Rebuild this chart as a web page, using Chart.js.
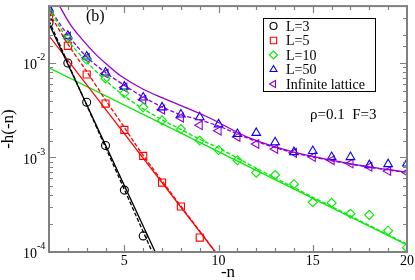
<!DOCTYPE html>
<html>
<head>
<meta charset="utf-8">
<script src="https://cdn.jsdelivr.net/npm/chart.js"></script>
<style>
  html, body { margin: 0; padding: 0; background: #fff; }
  #chart { display: block; }
</style>
</head>
<body>
<canvas id="chart" width="415" height="280"></canvas>
<script>
// data: -h(-n) against -n
const nValues = [1, 2, 3, 4, 5, 6, 7, 8, 9, 10, 11, 12, 13, 14, 15, 16, 17, 18, 19, 20];
const l3Values = [0.0267, 0.0100, 0.00384, 0.00134, 0.000452, 0.000148];
const l5Values = [0.031, 0.0152, 0.00755, 0.00372, 0.00196, 0.00104, 0.000543, 0.000303, 0.000142];
const l10Values = [0.0342, 0.0182, 0.0108, 0.00687, 0.0048, 0.0034, 0.00247, 0.00200, 0.00151, 0.0012,
  0.000935, 0.00069, 0.000653, 0.000522, 0.000336, 0.000331, 0.000254, 0.000247, 0.000168, 0.000111];
const l50Values = [0.0376, 0.0194, 0.0117, 0.00793, 0.00562, 0.00431, 0.00339, 0.00285, 0.00267, 0.00224,
  0.00177, 0.00182, 0.00145, 0.00114, 0.00117, 0.00101, 0.00101, 0.00083, 0.00085, 0.000863];
const infValues = [0.0358, 0.0191, 0.01135, 0.00774, 0.0055, 0.00408, 0.00321, 0.00264, 0.00219, 0.00192,
  0.00165, 0.00139, 0.00123, 0.00112, 0.00101, 0.000935, 0.000863, 0.000797, 0.000719, 0.000695];

// fitted curves (solid and dashed)
const l3SolidX = [1, 6.64];
const l3SolidY = [0.026, 0.0001];
const l3DashedX = [1, 6.48];
const l3DashedY = [0.028, 0.0001];
const l5SolidX = [1, 9.83];
const l5SolidY = [0.0194, 0.0001];
const l5DashedX = [1, 2, 3, 4, 5, 6, 9.83];
const l5DashedY = [0.034, 0.0159, 0.00813, 0.00406, 0.00208, 0.00105, 0.0001];
const l10SolidX = [1, 20];
const l10SolidY = [0.0089, 0.000119];
const l10DashedX = [1, 2, 3, 4, 5, 6, 7, 8, 9, 10, 12, 14, 20];
const l10DashedY = [0.0385, 0.0175, 0.0103, 0.00655, 0.00447, 0.00327, 0.00251, 0.00198, 0.00156, 0.00126, 0.00077, 0.00048, 0.000121];
const infSolidX = [1.546, 2.129, 2.659, 3.454, 4.09, 4.778, 6.0, 7.06, 9.39, 11.67, 14.0, 16.97, 20];
const infSolidY = [0.0404, 0.02565, 0.01875, 0.0125, 0.0096, 0.00738, 0.00527, 0.00425, 0.0027, 0.0016, 0.00114, 0.000863, 0.000695];
const infDashedX = [1, 2, 3, 4, 5, 6, 7, 8, 9, 10, 12, 14, 17, 20];
const infDashedY = [0.0385, 0.0197, 0.0116, 0.00793, 0.0058, 0.00436, 0.00343, 0.00283, 0.0025, 0.00215, 0.00148, 0.00112, 0.00085, 0.00069];

const xTickLabels = [5, 10, 15, 20];
const yDecades = [0.0001, 0.001, 0.01];
const legendLabels = ['L=3', 'L=5', 'L=10', 'L=50', 'Infinite lattice'];

const BLACK = '#000000', RED = '#ff0000', GREEN = '#00ee00', BLUE = '#0000ff', VIOLET = '#9400d3';
const SERIF = '"Liberation Serif", "DejaVu Serif", serif';

const zip = (xs, ys) => xs.map((x, i) => ({ x: x, y: ys[i] }));

function markers(label, values, color, style, radius, rotation) {
    return {
        label: label,
        data: zip(nValues.slice(0, values.length), values),
        showLine: false,
        pointStyle: style,
        pointRadius: radius,
        pointRotation: rotation || 0,
        pointBorderColor: color,
        pointBackgroundColor: 'rgba(0,0,0,0)',
        pointBorderWidth: 1.1
    };
}

function curve(xs, ys, color, dashed) {
    return {
        label: '',
        data: zip(xs, ys),
        showLine: true,
        borderColor: color,
        borderWidth: 1.3,
        borderDash: dashed ? [4, 2] : [],
        pointRadius: 0,
        tension: 0.3
    };
}

const legendItems = [
    { color: BLACK, style: 'circle', radius: 3.5, rotation: 0 },
    { color: RED, style: 'rect', radius: 4.5, rotation: 0 },
    { color: GREEN, style: 'rectRot', radius: 4, rotation: 0 },
    { color: BLUE, style: 'triangle', radius: 4, rotation: 0 },
    { color: VIOLET, style: 'triangle', radius: 4, rotation: -90 }
];

// frame, inward ticks, tick labels, legend and annotations
const decorations = {
    id: 'decorations',
    afterDraw(chart) {
        const ctx = chart.ctx;
        const area = chart.chartArea;
        const xs = chart.scales.x, ys = chart.scales.y;
        ctx.save();
        ctx.strokeStyle = '#808080';
        ctx.lineWidth = 1.2;
        ctx.beginPath();
        xs.ticks.forEach(t => {
            if (t.value <= 1 || t.value >= 20) return;
            const px = Math.round(xs.getPixelForValue(t.value)) + 0.5;
            const len = t.value % 5 === 0 ? 7 : 4;
            ctx.moveTo(px, area.bottom); ctx.lineTo(px, area.bottom - len);
            ctx.moveTo(px, area.top); ctx.lineTo(px, area.top + len);
        });
        ys.ticks.forEach(t => {
            const lg = Math.log10(t.value);
            const py = Math.round(ys.getPixelForValue(t.value)) + 0.5;
            if (py <= area.top + 1 || py >= area.bottom - 1) return;
            const len = Math.abs(lg - Math.round(lg)) < 1e-6 ? 7 : 4;
            ctx.moveTo(area.left, py); ctx.lineTo(area.left + len, py);
            ctx.moveTo(area.right, py); ctx.lineTo(area.right - len, py);
        });
        ctx.stroke();
        ctx.lineWidth = 2;
        ctx.strokeRect(area.left, area.top, area.right - area.left, area.bottom - area.top);

        ctx.fillStyle = '#000';
        // x labels and title
        ctx.textAlign = 'center';
        ctx.textBaseline = 'alphabetic';
        ctx.font = '14px ' + SERIF;
        xTickLabels.forEach(v => ctx.fillText(String(v), xs.getPixelForValue(v), 265));
        ctx.font = '17px ' + SERIF;
        ctx.fillText('-n', (area.left + area.right) / 2, 277);

        // y labels 10^k
        ctx.textBaseline = 'middle';
        ctx.textAlign = 'left';
        yDecades.forEach(v => {
            const py = ys.getPixelForValue(v);
            ctx.font = '14px ' + SERIF;
            ctx.fillText('10', 23, py + 2.5);
            ctx.font = '10px ' + SERIF;
            ctx.fillText(String(Math.round(Math.log10(v))), 37, py - 5.5);
        });

        // legend
        ctx.fillStyle = '#fff';
        ctx.fillRect(263, 18, 113, 74);
        ctx.strokeStyle = '#000';
        ctx.lineWidth = 1;
        ctx.strokeRect(263.5, 18.5, 112, 73);
        legendLabels.forEach((label, i) => {
            const item = legendItems[i];
            const y = 26 + i * 14.5;
            ctx.strokeStyle = item.color;
            ctx.fillStyle = 'rgba(0,0,0,0)';
            ctx.lineWidth = 1.1;
            Chart.helpers.drawPoint(ctx, {
                pointStyle: item.style, radius: item.radius, rotation: item.rotation, borderWidth: 1.1
            }, 273.5, y);
            ctx.fillStyle = '#000';
            ctx.font = '14px ' + SERIF;
            ctx.fillText(label, 286, y + 1);
        });

        ctx.font = '16px ' + SERIF;
        ctx.fillText('(b)', 86, 17);
        ctx.font = '15px ' + SERIF;
        ctx.fillText('\u03c1=0.1  F=3', 310, 115);
        ctx.restore();
    }
};

new Chart(document.getElementById('chart'), {
    type: 'scatter',
    data: {
        datasets: [
            curve(l3SolidX, l3SolidY, BLACK, false),
            curve(l3DashedX, l3DashedY, BLACK, true),
            curve(l5SolidX, l5SolidY, RED, false),
            curve(l5DashedX, l5DashedY, RED, true),
            curve(l10SolidX, l10SolidY, GREEN, false),
            curve(l10DashedX, l10DashedY, GREEN, true),
            curve(infSolidX, infSolidY, VIOLET, false),
            curve(infDashedX, infDashedY, VIOLET, true),
            markers('L=3', l3Values, BLACK, 'circle', 4),
            markers('L=5', l5Values, RED, 'rect', 5),
            markers('L=10', l10Values, GREEN, 'rectRot', 4.5),
            markers('L=50', l50Values, BLUE, 'triangle', 5),
            markers('Infinite lattice', infValues, VIOLET, 'triangle', 5, -90)
        ]
    },
    options: {
        responsive: false,
        animation: false,
        devicePixelRatio: 1,
        layout: { padding: { left: 0, right: 8, top: 1, bottom: 0 } },
        plugins: { legend: { display: false }, tooltip: { enabled: false } },
        scales: {
            x: {
                type: 'linear',
                min: 1,
                max: 20,
                afterFit: s => { s.height = 28; },
                grid: { display: false },
                border: { display: false },
                ticks: { stepSize: 1, autoSkip: false, maxRotation: 0, callback: () => '', font: { size: 1 } }
            },
            y: {
                type: 'logarithmic',
                min: 0.0001,
                max: 0.04,
                afterFit: s => { s.width = 49; },
                grid: { display: false },
                border: { display: false },
                ticks: { callback: () => '', font: { size: 1 } },
                title: {
                    display: true,
                    text: '-h(-n)',
                    color: '#000',
                    font: { family: SERIF, size: 17, lineHeight: 1 },
                    padding: { top: 0, bottom: 0 }
                }
            }
        }
    },
    plugins: [decorations]
});
</script>
</body>
</html>
